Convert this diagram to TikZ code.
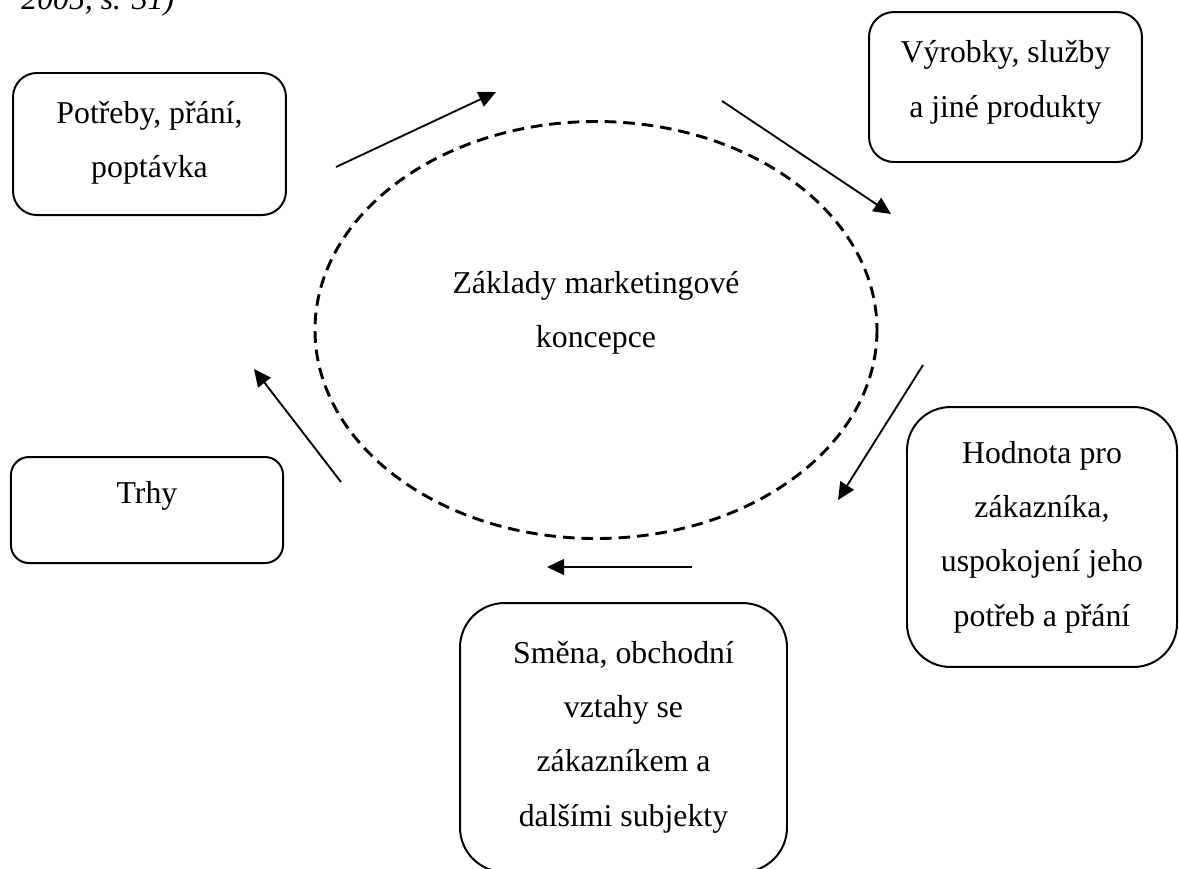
\documentclass[tikz,border=0pt]{standalone}
\usepackage{fontspec}
\setmainfont{Liberation Serif}
\usetikzlibrary{arrows.meta}

\begin{document}
\begin{tikzpicture}[x=0.3774pt, y=-0.3774pt,
    every node/.style={font=\fontsize{12}{20.5}\selectfont},
    box/.style={draw, line width=0.75pt, align=center, inner sep=0pt},
    arr/.style={line width=0.7pt, -{Triangle[length=6.5pt,width=6pt]}}]
    \useasboundingbox (0,0) rectangle (1179,868);

    \node (zdroj) [anchor=base west, font=\fontsize{12}{20.5}\selectfont\itshape] at (12,9) {2005, s. 31)};

    \node (potreby) [box, rounded corners=9pt, minimum width=103pt, minimum height=53.6pt, text depth=3.6pt] at (149.5,144) {Potřeby, přání,\\poptávka};
    \node (vyrobky) [box, rounded corners=9.4pt, minimum width=103pt, minimum height=56.6pt, text depth=6pt] at (1005.5,87) {Výrobky, služby\\a jiné produkty};
    \node (hodnota) [box, rounded corners=16.4pt, minimum width=101.9pt, minimum height=98.1pt] at (1042,537) {Hodnota pro\\zákazníka,\\uspokojení jeho\\potřeb a přání};
    \node (smena) [box, rounded corners=16.8pt, minimum width=123.4pt, minimum height=101.5pt, text depth=3pt] at (623.5,737.5) {Směna, obchodní\\vztahy se\\zákazníkem a\\dalšími subjekty};
    \node (trhy) [box, rounded corners=6.8pt, minimum width=102.7pt, minimum height=40pt, text depth=13.5pt] at (147,510) {Trhy};

    \draw[line width=1.1pt, dash pattern=on 4.4pt off 2.6pt] (596,330) ellipse [x radius=281, y radius=208.5];
    \node (koncepce) [align=center] at (596,313) {Základy marketingové\\koncepce};

    \coordinate (s1) at (336,167);
    \coordinate (e1) at (496,92);
    \coordinate (s2) at (722,101);
    \coordinate (e2) at (891,214);
    \coordinate (s3) at (923,365);
    \coordinate (e3) at (838,500);
    \coordinate (s4) at (692,567);
    \coordinate (e4) at (547,567);
    \coordinate (s5) at (341,482);
    \coordinate (e5) at (254,369);

    \draw[arr] (s1) -- (e1);
    \draw[arr] (s2) -- (e2);
    \draw[arr] (s3) -- (e3);
    \draw[arr] (s4) -- (e4);
    \draw[arr] (s5) -- (e5);
\end{tikzpicture}
\end{document}
